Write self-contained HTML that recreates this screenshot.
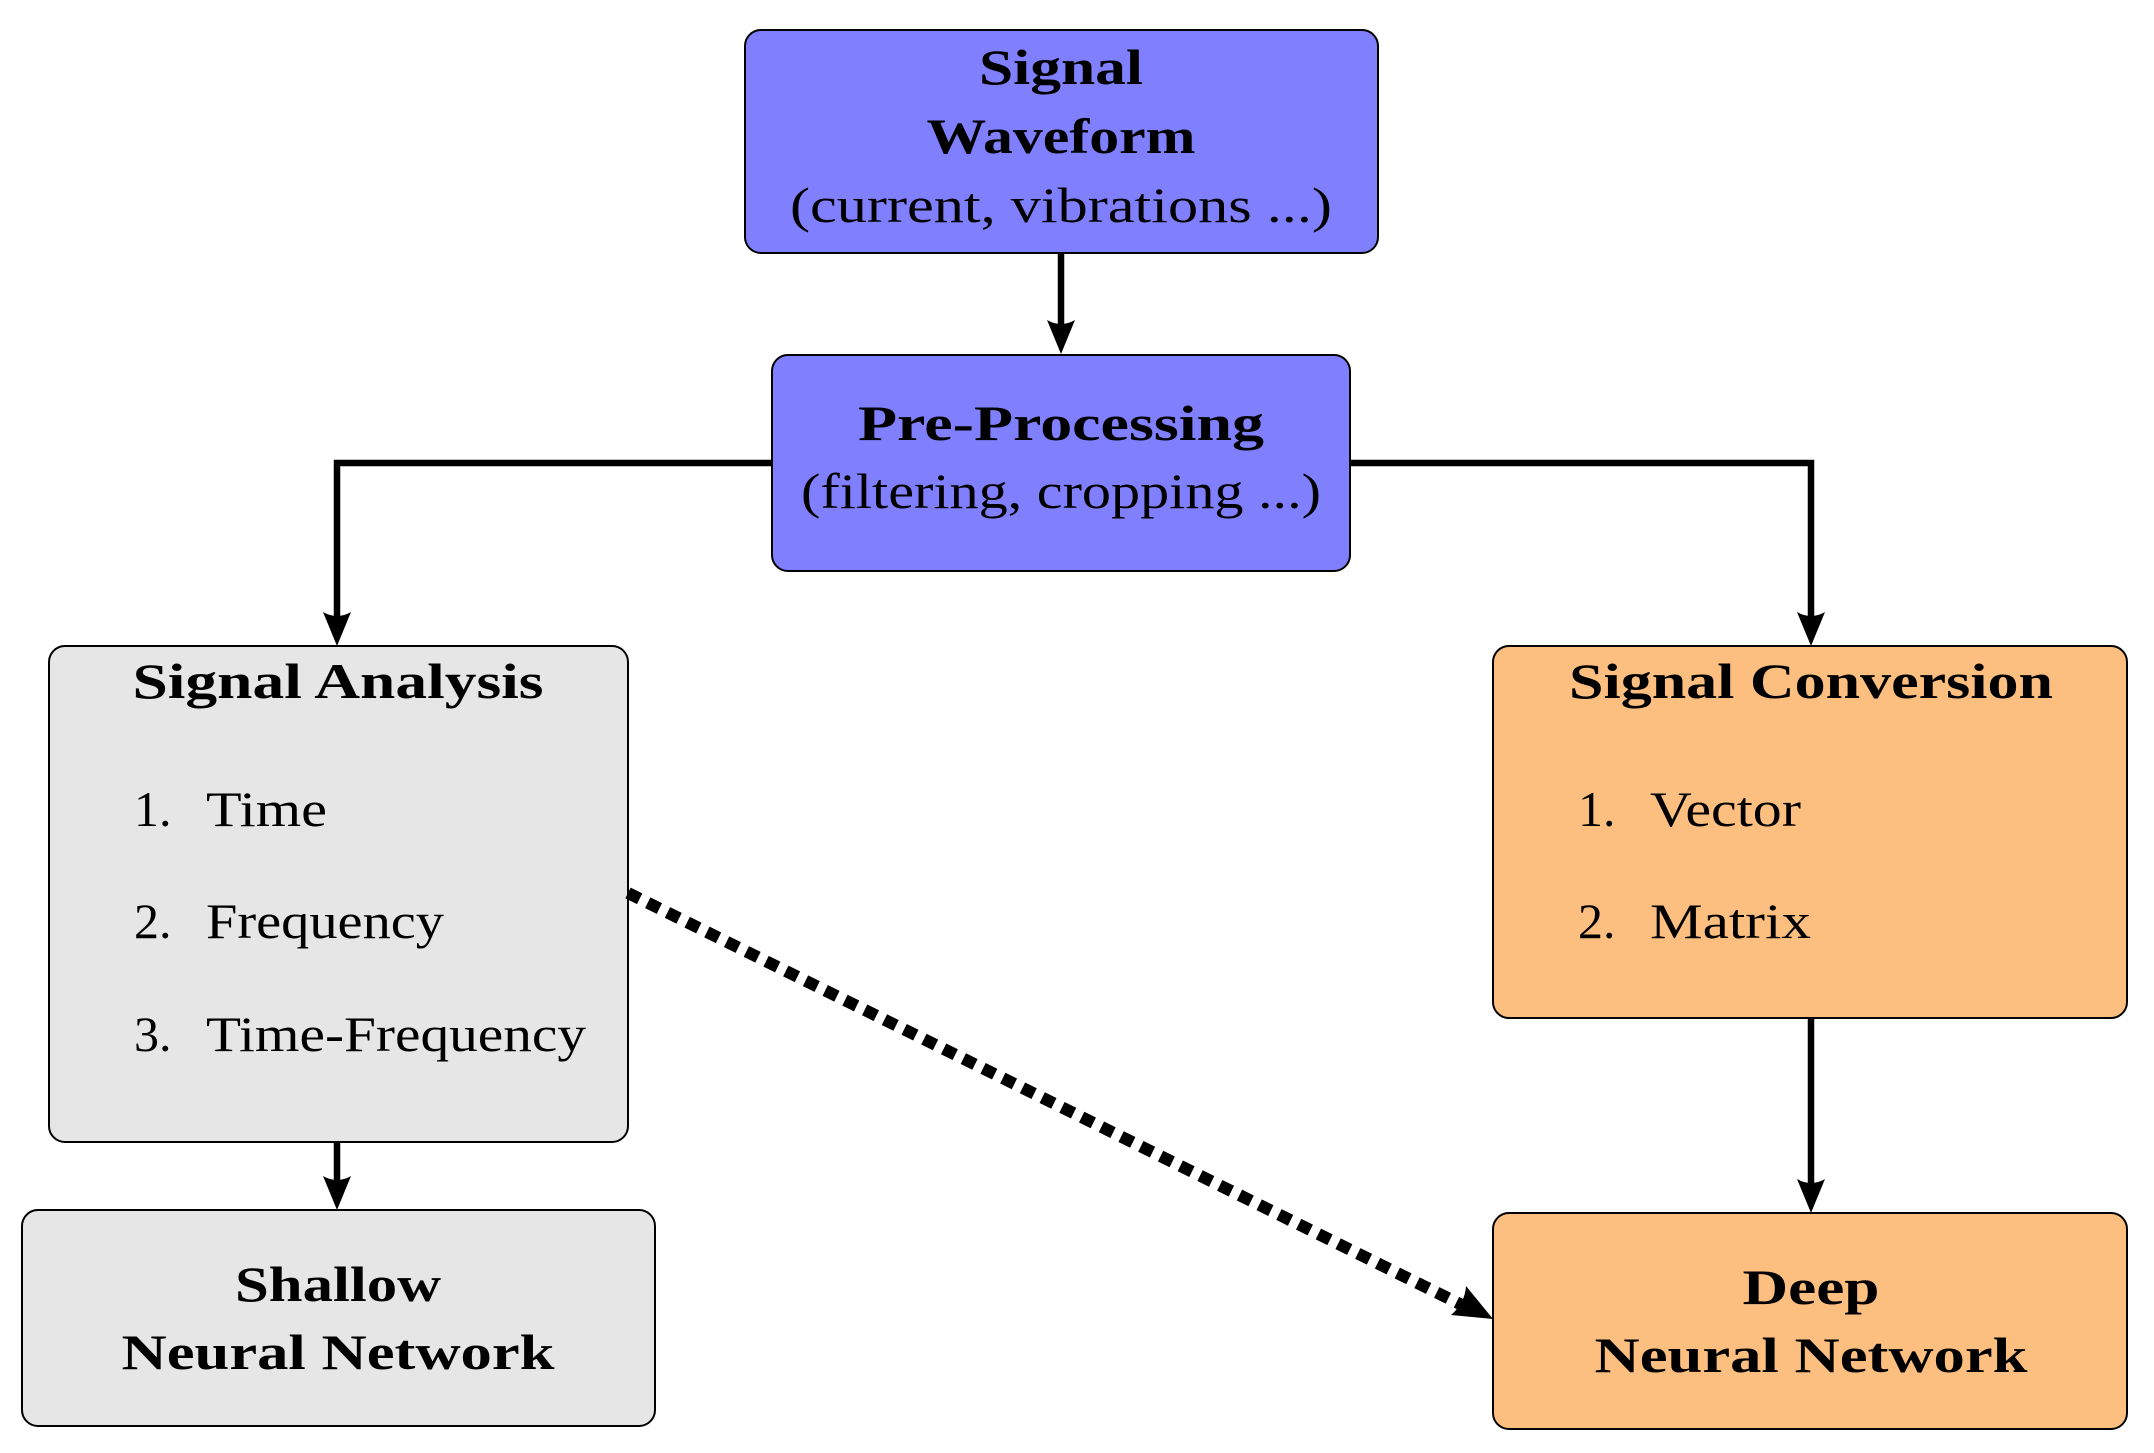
<!DOCTYPE html>
<html><head><meta charset="utf-8"><style>
html,body{margin:0;padding:0;background:#fff;}
svg{display:block;}
text{font-family:"Liberation Serif",serif;fill:#000;}
.b{font-weight:bold;font-size:50px;}
.n{font-size:50px;}
</style></head><body>
<svg width="2154" height="1453" viewBox="0 0 2154 1453" xmlns="http://www.w3.org/2000/svg">
<!-- boxes -->
<rect x="745" y="30" width="633" height="223" rx="16" fill="#8080ff" stroke="#000" stroke-width="2"/>
<rect x="772" y="355" width="578" height="216" rx="16" fill="#8080ff" stroke="#000" stroke-width="2"/>
<rect x="49" y="646" width="579" height="496" rx="16" fill="#e6e6e6" stroke="#000" stroke-width="2"/>
<rect x="1493" y="646" width="634" height="372" rx="16" fill="#fdbf80" stroke="#000" stroke-width="2"/>
<rect x="22" y="1210" width="633" height="216" rx="16" fill="#e6e6e6" stroke="#000" stroke-width="2"/>
<rect x="1493" y="1213" width="634" height="216" rx="16" fill="#fdbf80" stroke="#000" stroke-width="2"/>

<!-- connectors -->
<g stroke="#000" stroke-width="6.5" fill="none">
<line x1="1061" y1="253" x2="1061" y2="330"/>
<polyline points="772,463 337,463 337,622"/>
<polyline points="1350,463 1811,463 1811,622"/>
<line x1="337" y1="1142" x2="337" y2="1186"/>
<line x1="1811" y1="1018" x2="1811" y2="1189"/>
<line x1="628" y1="893" x2="1462" y2="1305" stroke-width="12" stroke-dasharray="13 9"/>
</g>
<g fill="#000">
<path d="M1061 354 L1047 320 Q1061 328 1075 320 Z"/>
<path d="M337 646 L323 612 Q337 620 351 612 Z"/>
<path d="M1811 646 L1797 612 Q1811 620 1825 612 Z"/>
<path d="M337 1210 L323 1176 Q337 1184 351 1176 Z"/>
<path d="M1811 1213 L1797 1179 Q1811 1187 1825 1179 Z"/>
<path d="M1493 1319 L1451 1315 Q1465 1303 1466 1286 Z"/>
</g>

<!-- text -->
<text class="b" x="1061" y="84" text-anchor="middle" textLength="164" lengthAdjust="spacingAndGlyphs">Signal</text>
<text class="b" x="1061" y="153" text-anchor="middle" textLength="269" lengthAdjust="spacingAndGlyphs">Waveform</text>
<text class="n" x="1061" y="222" text-anchor="middle" textLength="542" lengthAdjust="spacingAndGlyphs">(current, vibrations ...)</text>

<text class="b" x="1061" y="440" text-anchor="middle" textLength="406" lengthAdjust="spacingAndGlyphs">Pre-Processing</text>
<text class="n" x="1061" y="508" text-anchor="middle" textLength="520" lengthAdjust="spacingAndGlyphs">(filtering, cropping ...)</text>

<text class="b" x="338" y="698" text-anchor="middle" textLength="411" lengthAdjust="spacingAndGlyphs">Signal Analysis</text>
<text class="n" x="134" y="826">1.</text><text class="n" x="206" y="826" textLength="121" lengthAdjust="spacingAndGlyphs">Time</text>
<text class="n" x="134" y="938">2.</text><text class="n" x="206" y="938" textLength="238" lengthAdjust="spacingAndGlyphs">Frequency</text>
<text class="n" x="134" y="1051">3.</text><text class="n" x="206" y="1051" textLength="380" lengthAdjust="spacingAndGlyphs">Time-Frequency</text>

<text class="b" x="1811" y="698" text-anchor="middle" textLength="484" lengthAdjust="spacingAndGlyphs">Signal Conversion</text>
<text class="n" x="1578" y="826">1.</text><text class="n" x="1650" y="826" textLength="151" lengthAdjust="spacingAndGlyphs">Vector</text>
<text class="n" x="1578" y="938">2.</text><text class="n" x="1650" y="938" textLength="161" lengthAdjust="spacingAndGlyphs">Matrix</text>

<text class="b" x="338" y="1301" text-anchor="middle" textLength="206" lengthAdjust="spacingAndGlyphs">Shallow</text>
<text class="b" x="338" y="1369" text-anchor="middle" textLength="433" lengthAdjust="spacingAndGlyphs">Neural Network</text>

<text class="b" x="1811" y="1304" text-anchor="middle" textLength="137" lengthAdjust="spacingAndGlyphs">Deep</text>
<text class="b" x="1811" y="1372" text-anchor="middle" textLength="433" lengthAdjust="spacingAndGlyphs">Neural Network</text>
</svg>
</body></html>
